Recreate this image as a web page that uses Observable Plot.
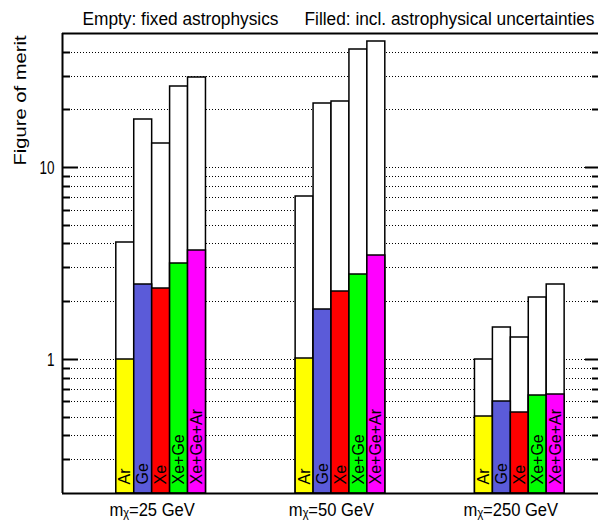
<!DOCTYPE html>
<html><head><meta charset="utf-8">
<script src="https://cdn.jsdelivr.net/npm/d3@7"></script>
<script src="https://cdn.jsdelivr.net/npm/@observablehq/plot@0.6"></script>
<style>body{margin:0;background:#fff} svg{display:block}</style>
</head><body><div id="chart"></div>
<script>
// ---- data ----
const masses = [25, 50, 250];
const detectors = ["Ar", "Ge", "Xe", "Xe+Ge", "Xe+Ge+Ar"];
const detectorColors = ["#ffff00", "#5b5bd9", "#ff0000", "#00ff00", "#ff00ff"];
const fixedAstro25 = [4.05, 17.9, 13.3, 26.6, 29.6];
const fixedAstro50 = [7.03, 21.6, 22.1, 41.3, 45.3];
const fixedAstro250 = [1.00, 1.46, 1.30, 2.10, 2.47];
const withUnc25 = [1.00, 2.47, 2.35, 3.18, 3.69];
const withUnc50 = [1.01, 1.82, 2.26, 2.76, 3.47];
const withUnc250 = [0.504, 0.606, 0.526, 0.646, 0.653];
const gridValues = [0.3, 0.4, 0.5, 0.6, 0.7, 0.8, 0.9, 1, 2, 3, 4, 5, 6, 7, 8, 9, 10, 20, 30, 40];
const majorTicks = [1, 10];
const yDomain = [0.2, 50];
const titleLeft = "Empty: fixed astrophysics";
const titleRight = "Filled: incl. astrophysical uncertainties";
const yLabel = "Figure of merit";

// ---- build table ----
const fixedAll = [fixedAstro25, fixedAstro50, fixedAstro250];
const uncAll = [withUnc25, withUnc50, withUnc250];
const bars = masses.flatMap((m, g) => detectors.map((d, i) => ({
  group: g, slot: i, detector: d, empty: fixedAll[g][i], filled: uncAll[g][i]
})));
const minorTicks = gridValues.filter(v => !majorTicks.includes(v));
const bx1 = d => d.group + 0.3 + 0.1 * d.slot;
const bx2 = d => d.group + 0.4 + 0.1 * d.slot;
const bxc = d => d.group + 0.35 + 0.1 * d.slot;
const base = () => yDomain[0];

const W = 598, H = 523, ML = 62, MR = 0, MT = 33, MB = 30;
const FW = W - ML - MR;

const svg = Plot.plot({
  width: W, height: H,
  marginLeft: ML, marginRight: MR, marginTop: MT, marginBottom: MB,
  x: {domain: [0, 3], range: [62, 600], axis: null},
  y: {type: "log", domain: yDomain, axis: null, round: true},
  color: {domain: detectors, range: detectorColors},
  style: {fontFamily: "'Liberation Sans', Arial, Helvetica, sans-serif", background: "white", color: "black"},
  marks: [
    Plot.ruleY(gridValues, {stroke: "black", strokeWidth: 1, strokeDasharray: "1,2"}),
    Plot.rect(bars, {x1: bx1, x2: bx2, y1: base, y2: "empty", fill: "white", stroke: "black", strokeWidth: 1.5}),
    Plot.rect(bars, {x1: bx1, x2: bx2, y1: base, y2: "filled", fill: "detector", stroke: "black", strokeWidth: 1.5}),
    Plot.text(bars, {x: bxc, y: base, text: "detector", rotate: -90, textAnchor: "start", dy: -9, fontSize: 16, fill: "black"}),
    // ticks
    Plot.ruleY(majorTicks, {insetRight: FW - 16, stroke: "black", strokeWidth: 2}),
    Plot.ruleY(minorTicks, {insetRight: FW - 8, stroke: "black", strokeWidth: 2}),
    Plot.ruleY(majorTicks, {insetLeft: 523, stroke: "black", strokeWidth: 2}),
    Plot.ruleY(minorTicks, {insetLeft: 530, stroke: "black", strokeWidth: 2}),
    // frame
    Plot.ruleX([0], {stroke: "black", strokeWidth: 2}),
    Plot.ruleY(yDomain, {stroke: "black", strokeWidth: 2}),
    // tick labels
    Plot.text(majorTicks, {y: d => d, text: d => String(d), frameAnchor: "left", textAnchor: "end", dx: -8, fontSize: 19, fill: "black"}),
    // group labels (subscript chi)
    Plot.text(masses, {x: (d, i) => i + 0.5, y: base, text: d => `mᵪ=${d} GeV`, lineAnchor: "bottom", dy: 22, fontSize: 18, fill: "black"}),
    // titles
    Plot.text([titleLeft], {text: d => d, frameAnchor: "top-left", textAnchor: "start", lineAnchor: "bottom", dx: 20, dy: -9, fontSize: 17.5, fill: "black"}),
    Plot.text([titleRight], {text: d => d, frameAnchor: "top-right", textAnchor: "end", lineAnchor: "bottom", dx: -4, dy: -9, fontSize: 17.5, fill: "black"}),
    Plot.text([yLabel], {text: d => d, frameAnchor: "top-left", rotate: -90, textAnchor: "end", lineAnchor: "bottom", dx: -37, dy: 2, fontSize: 16, fill: "black"})
  ]
});
document.getElementById("chart").append(svg);

// ---- fit text widths to the reference's condensed lettering ----
const targets = new Map([[titleLeft, 196], [titleRight, 290], [yLabel, 130]]);
d3.select(svg).selectAll("text").each(function () {
  const t = this.textContent;
  const sel = d3.select(this);
  if (targets.has(t)) {
    sel.attr("textLength", targets.get(t)).attr("lengthAdjust", "spacingAndGlyphs");
  } else if (t.startsWith("mᵪ=")) {
    const w = this.getComputedTextLength();
    sel.attr("textLength", w * 0.92).attr("lengthAdjust", "spacingAndGlyphs");
  } else if (majorTicks.map(String).includes(t)) {
    const w = this.getComputedTextLength();
    sel.attr("textLength", w * 0.71).attr("lengthAdjust", "spacingAndGlyphs");
  }
});
</script>
</body></html>
